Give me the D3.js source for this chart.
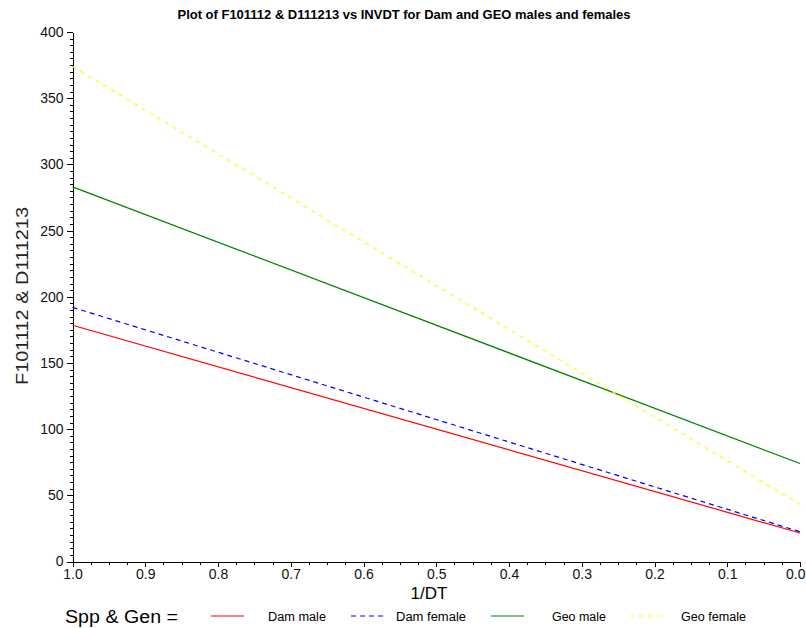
<!DOCTYPE html>
<html>
<head>
<meta charset="utf-8" />
<title>F101112 & D111213 vs INVDT</title>
<style>
  body { margin: 0; background: #fff; }
  svg text { font-family: "Liberation Sans", Arial, sans-serif; fill: #000; }
  .axis path, .axis line { stroke: #000; shape-rendering: crispEdges; }
  .axis text { font-size: 14px; fill: #111; }
</style>
</head>
<body>
<div id="chart"></div>
<script src="https://d3js.org/d3.v7.min.js"></script>
<script>
// data (two end points per fitted line)
var invdt = [1.0, 0.0];
var damMale = [178.5, 21.5];
var damFemale = [192, 22.5];
var geoMale = [283, 74];
var geoFemale = [374, 43];

var seriesNames = ["Dam male", "Dam female", "Geo male", "Geo female"];
var seriesColors = ["#ff0000", "#0000ff", "#008000", "#ffff00"];
var seriesDash = [null, "5,4", null, "4,5"];
var seriesValues = [damMale, damFemale, geoMale, geoFemale];

var xMajor = d3.range(0, 11).map(function(i) { return i / 10; });
var xMinor = d3.range(0, 41).map(function(i) { return i / 40; });
var yMajor = d3.range(0, 401, 50);
var yMinor = d3.range(0, 401, 5);

var width = 806, height = 628;
var svg = d3.select("#chart").append("svg")
  .attr("width", width).attr("height", height);

var x = d3.scaleLinear().domain([1, 0]).range([72.5, 800]);
var y = d3.scaleLinear().domain([0, 400]).range([561.5, 32]);

// title
svg.append("text")
  .attr("x", 404).attr("y", 19)
  .attr("text-anchor", "middle")
  .attr("textLength", 453).attr("lengthAdjust", "spacingAndGlyphs")
  .style("font-size", "13px").style("font-weight", "bold")
  .text("Plot of F101112 & D111213 vs INVDT for Dam and GEO males and females");

// minor ticks
svg.append("g").attr("class", "axis")
  .attr("transform", "translate(" + x(1) + ",0)")
  .call(d3.axisLeft(y).tickValues(yMinor).tickSize(3).tickFormat(""))
  .select(".domain").remove();
svg.append("g").attr("class", "axis")
  .attr("transform", "translate(0," + y(0) + ")")
  .call(d3.axisBottom(x).tickValues(xMinor).tickSize(3).tickFormat(""))
  .select(".domain").remove();

// major axes
svg.append("g").attr("class", "axis")
  .attr("transform", "translate(" + x(1) + ",0)")
  .call(d3.axisLeft(y).tickValues(yMajor).tickSize(6).tickSizeOuter(0).tickPadding(3));
var xAxis = svg.append("g").attr("class", "axis")
  .attr("transform", "translate(0," + y(0) + ")")
  .call(d3.axisBottom(x).tickValues(xMajor).tickSize(5).tickSizeOuter(0).tickPadding(3)
    .tickFormat(d3.format(".1f")));
// keep the last label inside the frame
xAxis.selectAll(".tick text").filter(function(d) { return d === 0; })
  .attr("text-anchor", "end").attr("dx", "5");

// axis labels
svg.append("text")
  .attr("x", 429).attr("y", 599)
  .attr("text-anchor", "middle")
  .style("font-size", "17px")
  .text("1/DT");
svg.append("text")
  .attr("transform", "translate(28,296) rotate(-90)")
  .attr("text-anchor", "middle")
  .attr("textLength", 178).attr("lengthAdjust", "spacingAndGlyphs")
  .style("font-size", "17px").style("fill", "#222")
  .text("F101112 & D111213");

// lines
var line = d3.line()
  .x(function(d) { return x(d[0]); })
  .y(function(d) { return y(d[1]); });

seriesValues.forEach(function(vals, i) {
  svg.append("path")
    .datum(invdt.map(function(v, j) { return [v, vals[j]]; }))
    .attr("fill", "none")
    .attr("stroke", seriesColors[i])
    .attr("stroke-width", 1.2)
    .attr("stroke-dasharray", seriesDash[i])
    .attr("d", line);
});

// legend
var legY = 616;
svg.append("text")
  .attr("x", 65).attr("y", legY + 7)
  .attr("textLength", 113).attr("lengthAdjust", "spacingAndGlyphs")
  .style("font-size", "18px")
  .text("Spp & Gen =");
var legX = [211, 351, 491, 630];
var legTextX = [268, 396, 552, 681];
var legTextW = [58, 70, 54, 65];
seriesNames.forEach(function(name, i) {
  svg.append("line")
    .attr("x1", legX[i]).attr("x2", legX[i] + 33)
    .attr("y1", legY).attr("y2", legY)
    .attr("stroke", seriesColors[i])
    .attr("stroke-width", 1.2)
    .attr("stroke-dasharray", seriesDash[i]);
  svg.append("text")
    .attr("x", legTextX[i]).attr("y", legY + 5)
    .attr("textLength", legTextW[i]).attr("lengthAdjust", "spacingAndGlyphs")
    .style("font-size", "12px")
    .text(name);
});
</script>
</body>
</html>
